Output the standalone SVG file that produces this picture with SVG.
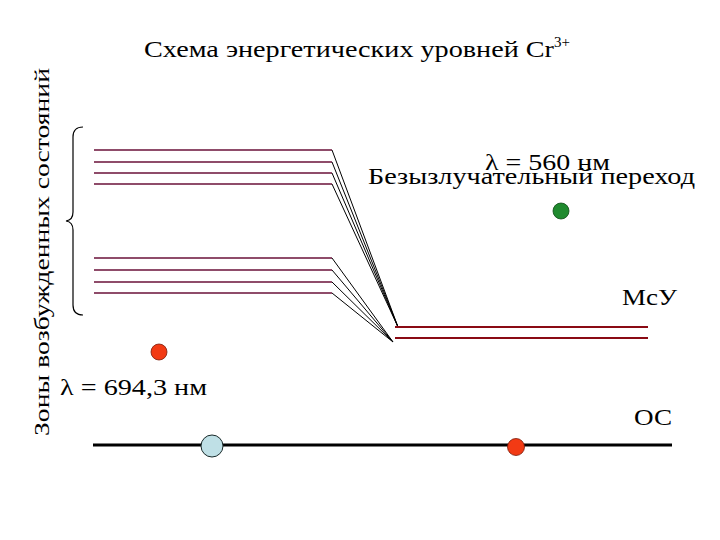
<svg xmlns="http://www.w3.org/2000/svg" width="720" height="540" viewBox="0 0 720 540">
<style>
text{font-family:"Liberation Serif","Times New Roman","DejaVu Serif",serif;fill:#000}
.lvl{stroke:#6a1038;stroke-width:1.3;fill:none}
.tr{stroke:#000;stroke-width:1;fill:none}
.msu{stroke:#8a0a14;stroke-width:2.2;fill:none}
</style>
<rect width="720" height="540" fill="#fff"/>
<g id="title">
<text x="144" y="57" font-size="23"><tspan textLength="410" lengthAdjust="spacingAndGlyphs">Схема энергетических уровней Cr</tspan><tspan font-size="15" dy="-10">3+</tspan></text>
</g>
<g id="zone-label">
<text transform="translate(49,436) rotate(-90)" font-size="22" textLength="368" lengthAdjust="spacingAndGlyphs">Зоны возбужденных состояний</text>
<path d="M83,127 Q73,127 73,137 L73,212 Q73,220 66,221 Q73,222 73,230 L73,305 Q73,315 83,315" fill="none" stroke="#000" stroke-width="1.2"/>
</g>
<g id="excited-upper">
<line class="lvl" x1="94" y1="150" x2="332" y2="150"/>
<line class="lvl" x1="94" y1="162" x2="332" y2="162"/>
<line class="lvl" x1="94" y1="173" x2="332" y2="173"/>
<line class="lvl" x1="94" y1="184" x2="332" y2="184"/>
</g>
<g id="excited-lower">
<line class="lvl" x1="94" y1="258" x2="332" y2="258"/>
<line class="lvl" x1="94" y1="270" x2="332" y2="270"/>
<line class="lvl" x1="94" y1="282" x2="332" y2="282"/>
<line class="lvl" x1="94" y1="293" x2="332" y2="293"/>
</g>
<g id="connectors">
<line class="tr" x1="332" y1="150" x2="398" y2="327"/>
<line class="tr" x1="332" y1="162" x2="398" y2="327"/>
<line class="tr" x1="332" y1="173" x2="398" y2="327"/>
<line class="tr" x1="332" y1="184" x2="398" y2="327"/>
<line class="tr" x1="332" y1="258" x2="393" y2="342"/>
<line class="tr" x1="332" y1="270" x2="393" y2="342"/>
<line class="tr" x1="332" y1="282" x2="393" y2="342"/>
<line class="tr" x1="332" y1="293" x2="393" y2="342"/>
</g>
<g id="msu">
<line class="msu" x1="395" y1="327" x2="648" y2="327"/>
<line class="msu" x1="395" y1="338" x2="648" y2="338"/>
<text x="622" y="305" font-size="24" textLength="55" lengthAdjust="spacingAndGlyphs">МсУ</text>
</g>
<g id="ground">
<line x1="93" y1="445" x2="672" y2="445" stroke="#000" stroke-width="3"/>
<text x="634" y="425" font-size="24" textLength="38" lengthAdjust="spacingAndGlyphs">ОС</text>
</g>
<g id="labels">
<text x="485" y="170" font-size="24" textLength="125" lengthAdjust="spacingAndGlyphs">λ = 560 нм</text>
<text x="368" y="184" font-size="24" textLength="327" lengthAdjust="spacingAndGlyphs">Безызлучательный переход</text>
<text x="60" y="395" font-size="24" textLength="147" lengthAdjust="spacingAndGlyphs">λ = 694,3 нм</text>
</g>
<g id="dots">
<circle cx="561" cy="211" r="8" fill="#1f8a2e" stroke="#0c4a14" stroke-width="0.8"/>
<circle cx="159" cy="352" r="8" fill="#f23a14" stroke="#7a1a0a" stroke-width="0.8"/>
<circle cx="212" cy="446" r="11" fill="#bfe0e6" stroke="#1a2a2a" stroke-width="1"/>
<circle cx="516" cy="447" r="8.5" fill="#f23a14" stroke="#7a1a0a" stroke-width="0.8"/>
</g>
</svg>
